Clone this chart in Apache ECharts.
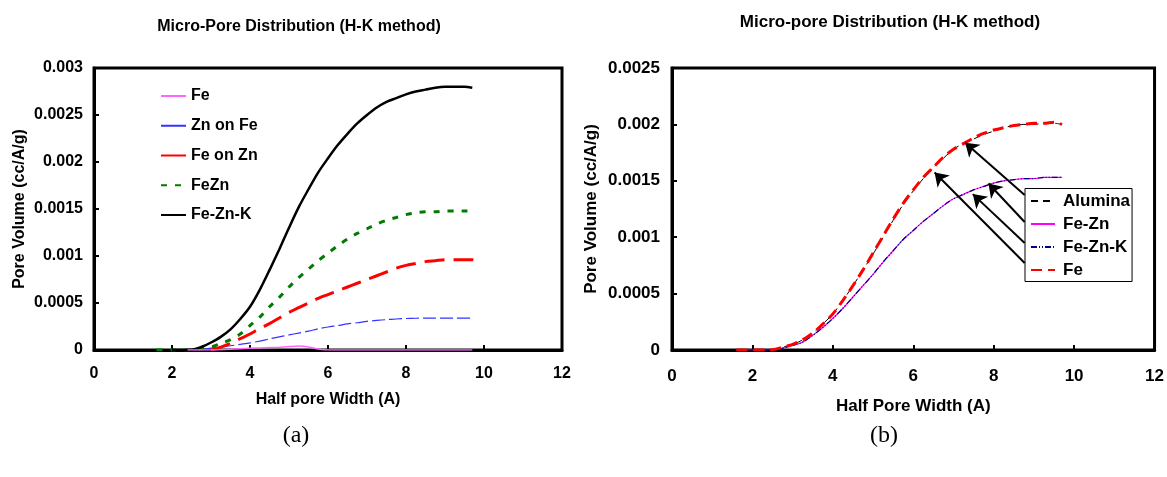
<!DOCTYPE html>
<html><head><meta charset="utf-8">
<script src="https://cdn.jsdelivr.net/npm/echarts@6/dist/echarts.min.js"></script>
<style>html,body{margin:0;padding:0;background:#fff}#c{width:1167px;height:477px}</style>
</head><body><div id="c"></div>
<script>
// ---------- data ----------
const xLeft = [1.6, 2.0, 2.4, 2.6, 2.8, 3.0, 3.25, 3.5, 3.75, 4.0, 4.25, 4.5, 4.75, 5.0, 5.25, 5.5, 5.75, 6.0, 6.25, 6.5, 6.75, 7.0, 7.25, 7.5, 7.75, 8.0, 8.25, 8.5, 8.75, 9.0, 9.25, 9.5, 9.7, 9.8];
const leftFe = [null, null, 0, 0, 0, 0, 0.000003, 0.000008, 0.000013, 0.000018, 0.000022, 0.000026, 0.00003, 0.000036, 0.000042, 0.000033, 0.00001, 0, 0, 0, 0, 0, 0, 0, 0, 0, 0, 0, 0, 0, 0, 0, 0, null];
const leftZnOnFe = [null, null, 0, 0.000002, 0.000008, 0.00002, 0.000032, 0.000045, 0.00006, 0.000075, 0.000095, 0.000118, 0.00014, 0.00016, 0.00018, 0.0002, 0.000225, 0.000245, 0.00026, 0.000278, 0.00029, 0.000305, 0.000315, 0.000323, 0.00033, 0.000335, 0.000338, 0.00034, 0.00034, 0.00034, 0.00034, 0.00034, 0.00034, null];
const leftFeOnZn = [null, null, null, null, null, 0, 0.00003, 0.00007, 0.00012, 0.00017, 0.00023, 0.00028, 0.00034, 0.0004, 0.00045, 0.0005, 0.00055, 0.00059, 0.00063, 0.00067, 0.00071, 0.00075, 0.00079, 0.00083, 0.00087, 0.0009, 0.00092, 0.00094, 0.00095, 0.00096, 0.00096, 0.00096, 0.00096, 0.00095];
const leftFeZn = [0, 0, 0, 0.000005, 0.000015, 0.00003, 0.00007, 0.00011, 0.00017, 0.00026, 0.00035, 0.00046, 0.00056, 0.00067, 0.00077, 0.00086, 0.00095, 0.00103, 0.00111, 0.00118, 0.00124, 0.00129, 0.00134, 0.00138, 0.00141, 0.00144, 0.00146, 0.00147, 0.00147, 0.00148, 0.00148, 0.00148, 0.00148, null];
const leftFeZnK = [null, 0, 0, 0.00001, 0.00004, 0.00008, 0.00014, 0.00022, 0.00033, 0.00046, 0.00064, 0.00085, 0.00107, 0.0013, 0.00152, 0.00171, 0.00189, 0.00204, 0.00218, 0.0023, 0.00241, 0.0025, 0.00258, 0.00264, 0.00268, 0.00272, 0.00275, 0.00277, 0.00279, 0.0028, 0.0028, 0.0028, 0.00279, null];

const xRight = [1.6, 2.0, 2.4, 2.6, 2.8, 3.0, 3.25, 3.5, 3.75, 4.0, 4.25, 4.5, 4.75, 5.0, 5.25, 5.5, 5.75, 6.0, 6.25, 6.5, 6.75, 7.0, 7.25, 7.5, 7.75, 8.0, 8.25, 8.5, 8.75, 9.0, 9.25, 9.5, 9.7];
const rightAlumina = [0, 0, 0, 0.00001, 0.00003, 0.00005, 0.00009, 0.00015, 0.00023, 0.00032, 0.00044, 0.00057, 0.00071, 0.00085, 0.001, 0.00115, 0.00129, 0.00141, 0.00152, 0.00162, 0.0017, 0.00178, 0.00183, 0.00187, 0.00191, 0.00194, 0.00197, 0.00199, 0.002, 0.002, 0.00201, 0.00201, 0.002];
const rightFeZn = [0, 0, 0, 0.000005, 0.00002, 0.00004, 0.00007, 0.00013, 0.0002, 0.00028, 0.00037, 0.00047, 0.00057, 0.00067, 0.00078, 0.00088, 0.00098, 0.00106, 0.00114, 0.00121, 0.00128, 0.00134, 0.00138, 0.00142, 0.00145, 0.00148, 0.0015, 0.00151, 0.00152, 0.00152, 0.00153, 0.00153, 0.00153];
const rightFeZnK = [0, 0, 0, 0.000005, 0.00002, 0.00004, 0.00007, 0.00013, 0.0002, 0.00028, 0.00037, 0.00047, 0.00057, 0.00067, 0.00078, 0.00088, 0.00098, 0.00106, 0.00114, 0.00121, 0.00128, 0.00134, 0.00138, 0.00142, 0.00145, 0.00148, 0.0015, 0.00151, 0.00152, 0.00152, 0.00153, 0.00153, 0.00153];
const rightFe = [0, 0, 0, 0.00001, 0.00003, 0.00005, 0.00009, 0.00015, 0.00023, 0.00032, 0.00044, 0.00057, 0.00071, 0.00086, 0.00101, 0.00116, 0.0013, 0.00142, 0.00153, 0.00162, 0.00171, 0.00178, 0.00183, 0.00188, 0.00192, 0.00195, 0.00197, 0.00199, 0.002, 0.00201, 0.00201, 0.00202, 0.002];

// arrows (data coordinates of right chart): tails at legend box, tips on curves
const arrowTails = [[8.77, 0.001374], [8.77, 0.001135], [8.77, 0.000949], [8.77, 0.000771]];
const arrowTips = [[7.29, 0.001838], [7.87, 0.001476], [7.48, 0.001382], [6.53, 0.001574]];

const leftNames = ['Fe', 'Zn on Fe', 'Fe on Zn', 'FeZn', 'Fe-Zn-K'];
const rightNames = ['Alumina', 'Fe-Zn', 'Fe-Zn-K', 'Fe'];
const xTicks = { min: 0, max: 12, interval: 2 };

// ---------- chart ----------
const FONT = "'Liberation Sans', Arial, sans-serif";
const pairs = (xs, ys) => xs.map((x, i) => [x, ys[i]]).filter(p => p[1] !== null);
const rightKey = n => 'b:' + n;
const fmt = v => String(parseFloat(v.toFixed(5)));

function mkX(gi, name, fs, gap, margin) {
  return {
    type: 'value', gridIndex: gi, min: xTicks.min, max: xTicks.max, interval: xTicks.interval,
    name: name, nameLocation: 'middle', nameGap: gap,
    nameTextStyle: { fontSize: fs, fontWeight: 'bold', fontFamily: FONT, color: '#000' },
    axisLine: { show: true, onZero: false, lineStyle: { color: '#000', width: 3 } },
    axisTick: { show: true, inside: true, length: 5, lineStyle: { color: '#000', width: 2 } },
    axisLabel: { fontSize: fs, fontWeight: 'bold', fontFamily: FONT, color: '#000', margin: margin },
    splitLine: { show: false }
  };
}
function mkY(gi, max, name, fs, gap, margin) {
  return {
    type: 'value', gridIndex: gi, min: 0, max: max, interval: 0.0005,
    name: name, nameLocation: 'middle', nameGap: gap,
    nameTextStyle: { fontSize: fs, fontWeight: 'bold', fontFamily: FONT, color: '#000' },
    axisLine: { show: true, onZero: false, lineStyle: { color: '#000', width: 3 } },
    axisTick: { show: true, inside: true, length: 5, lineStyle: { color: '#000', width: 2 } },
    axisLabel: { fontSize: fs, fontWeight: 'bold', fontFamily: FONT, color: '#000', margin: margin, formatter: fmt },
    splitLine: { show: false }
  };
}
function line(name, xi, xs, ys, color, width, type, z) {
  return {
    type: 'line', name: name, xAxisIndex: xi, yAxisIndex: xi, data: pairs(xs, ys),
    showSymbol: false, symbol: 'none', smooth: 0.3, z: z || 3,
    lineStyle: { color: color, width: width, type: type },
    itemStyle: { color: color }
  };
}

const series = [
  line('Fe', 0, xLeft, leftFe, '#ff66ff', 1.5, 'solid', 6),
  line('Zn on Fe', 0, xLeft, leftZnOnFe, '#3333ff', 1.2, [13, 4]),
  line('Fe on Zn', 0, xLeft, leftFeOnZn, '#ff0000', 3, [20, 9]),
  line('FeZn', 0, xLeft, leftFeZn, '#007a00', 3, [6, 8]),
  line('Fe-Zn-K', 0, xLeft, leftFeZnK, '#000000', 2.5, 'solid'),
  line(rightKey('Alumina'), 1, xRight, rightAlumina, '#000000', 1, [7, 5]),
  line(rightKey('Fe-Zn'), 1, xRight, rightFeZn, '#ff00ff', 1.2, 'solid'),
  line(rightKey('Fe-Zn-K'), 1, xRight, rightFeZnK, '#000080', 1.2, [6, 2, 1, 2, 1, 2]),
  line(rightKey('Fe'), 1, xRight, rightFe, '#ff0000', 3, [11, 6], 4)
];
series[6].markLine = {
  silent: true, symbol: ['none', 'arrow'], symbolSize: 13,
  label: { show: false },
  itemStyle: { color: '#000' },
  lineStyle: { color: '#000', width: 2, type: 'solid' },
  emphasis: { disabled: true },
  data: arrowTails.map((t, i) => [{ coord: t }, { coord: arrowTips[i] }])
};

const hiddenMarker = { color: 'rgba(0,0,0,0)', borderWidth: 0, opacity: 0 };
const leftLegendData = leftNames.map(n =>
  (n === 'Zn on Fe' || n === 'Fe on Zn') ? { name: n, lineStyle: { type: 'solid' } } : { name: n });

const option = {
  animation: false,
  backgroundColor: '#fff',
  title: [
    { text: 'Micro-Pore Distribution (H-K method)', left: 299, top: 19, textAlign: 'center', padding: 0,
      textStyle: { fontSize: 16, fontWeight: 'bold', fontFamily: FONT, color: '#000' } },
    { text: 'Micro-pore Distribution (H-K method)', left: 890, top: 14, textAlign: 'center', padding: 0,
      textStyle: { fontSize: 17, fontWeight: 'bold', fontFamily: FONT, color: '#000' } }
  ],
  grid: [
    { left: 94, top: 68, width: 468, height: 282, show: true, borderColor: '#000', borderWidth: 3, backgroundColor: 'transparent' },
    { left: 672, top: 68, width: 483, height: 282, show: true, borderColor: '#000', borderWidth: 3, backgroundColor: 'transparent' }
  ],
  xAxis: [
    mkX(0, 'Half pore Width (A)', 16, 42, 16),
    mkX(1, 'Half Pore Width (A)', 17, 48, 18)
  ],
  yAxis: [
    mkY(0, 0.003, 'Pore Volume (cc/A/g)', 16, 66, 11),
    mkY(1, 0.0025, 'Pore Volume (cc/A/g)', 17, 72, 12)
  ],
  legend: [
    { data: leftLegendData, orient: 'vertical', left: 160, top: 88, padding: 0, itemWidth: 25, itemHeight: 14, itemGap: 13.75,
      selectedMode: false, itemStyle: hiddenMarker,
      textStyle: { fontSize: 16, fontWeight: 'bold', fontFamily: FONT, color: '#000' } },
    { data: rightNames.map(rightKey), orient: 'vertical', left: 1025, top: 188.5, padding: [4, 2, 3, 5],
      itemWidth: 24, itemHeight: 17, itemGap: 6, selectedMode: false, itemStyle: hiddenMarker,
      borderColor: '#000', borderWidth: 1, backgroundColor: '#fff',
      formatter: n => n.slice(2),
      textStyle: { fontSize: 17, fontWeight: 'bold', fontFamily: FONT, color: '#000', padding: [0, 0, 0, 3] } }
  ],
  graphic: [
    { type: 'text', x: 296, y: 436, style: { text: '(a)', font: "24px 'Liberation Serif', 'Times New Roman', serif", fill: '#000', align: 'center', verticalAlign: 'middle' } },
    { type: 'text', x: 884, y: 436, style: { text: '(b)', font: "24px 'Liberation Serif', 'Times New Roman', serif", fill: '#000', align: 'center', verticalAlign: 'middle' } }
  ],
  series: series
};

const chart = echarts.init(document.getElementById('c'), null, { renderer: 'canvas' });
chart.setOption(option);
</script>
</body></html>
